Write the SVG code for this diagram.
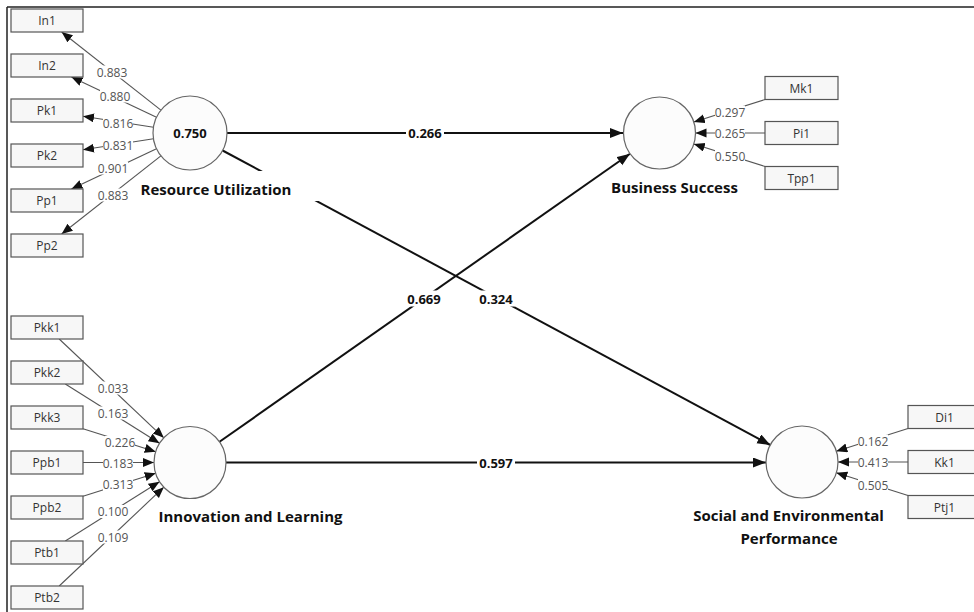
<svg xmlns="http://www.w3.org/2000/svg" width="974" height="612" viewBox="0 0 974 612">
<defs>
<marker id="ah" markerUnits="userSpaceOnUse" markerWidth="12" markerHeight="10" refX="11" refY="4.5" orient="auto"><path d="M0,0 L11,4.5 L0,9 z" fill="#111"/></marker>
<marker id="ahb" markerUnits="userSpaceOnUse" markerWidth="14" markerHeight="12" refX="13" refY="5" orient="auto"><path d="M0,0 L13,5 L0,10 z" fill="#111"/></marker>
<style>
.ind rect{fill:#f7f7f7;stroke:#555;stroke-width:1.2}
.ind text{font-family:"Open Sans","Noto Sans",sans-serif;font-size:12px;fill:#333;text-anchor:middle;dominant-baseline:central}
.lv circle{fill:#fcfcfc;stroke:#666;stroke-width:1.2}
.lvname{font-family:"Open Sans","Noto Sans",sans-serif;font-size:15px;font-weight:bold;fill:#111;text-anchor:middle;dominant-baseline:central}
.r2{font-family:"Open Sans","Noto Sans",sans-serif;font-size:13px;font-weight:bold;fill:#111;text-anchor:middle;dominant-baseline:central}
.outer{stroke:#555;stroke-width:1.1;fill:none;marker-end:url(#ah)}
.inner{stroke:#111;stroke-width:2;fill:none;marker-end:url(#ahb)}
.lbg{fill:#fff}
.ld{font-family:"Open Sans","Noto Sans",sans-serif;font-size:12px;fill:#555;text-anchor:middle;dominant-baseline:central}
.pc{font-family:"Open Sans","Noto Sans",sans-serif;font-size:13px;font-weight:bold;fill:#111;text-anchor:middle;dominant-baseline:central}
</style>
</defs>
<rect x="0" y="0" width="974" height="612" fill="#fff"/>
<path d="M7,7 H974 M7,7 V612" stroke="#222" stroke-width="1.5" fill="none"/>

<g id="connectors">
<!-- inner model -->
<line class="inner" x1="227" y1="133" x2="623" y2="133"/>
<line class="inner" x1="222.6" y1="150.5" x2="770.3" y2="445"/>
<line class="inner" x1="219.5" y1="441.8" x2="630" y2="153.7"/>
<line class="inner" x1="226" y1="462.5" x2="766" y2="462.5"/>
<!-- Resource Utilization outer (reflective) -->
<line class="outer" x1="160.9" y1="110.1" x2="61.6" y2="32"/>
<line class="outer" x1="156.5" y1="117.2" x2="71.4" y2="77"/>
<line class="outer" x1="153.5" y1="127.25" x2="83" y2="116.2"/>
<line class="outer" x1="153.5" y1="138.75" x2="83" y2="149.8"/>
<line class="outer" x1="156.5" y1="148.8" x2="71.4" y2="189"/>
<line class="outer" x1="160.9" y1="155.9" x2="61.6" y2="234"/>
<!-- Innovation and Learning outer (formative) -->
<line class="outer" x1="59.2" y1="339" x2="163.8" y2="437.8"/>
<line class="outer" x1="65.3" y1="384" x2="159.5" y2="443.3"/>
<line class="outer" x1="83" y1="428.8" x2="155.7" y2="451.7"/>
<line class="outer" x1="83" y1="462.5" x2="154" y2="462.5"/>
<line class="outer" x1="83" y1="496.2" x2="155.7" y2="473.3"/>
<line class="outer" x1="65.3" y1="541" x2="159.5" y2="481.7"/>
<line class="outer" x1="59.2" y1="586" x2="163.8" y2="487.2"/>
<!-- Business Success outer -->
<line class="outer" x1="765" y1="99.5" x2="693.8" y2="122.1"/>
<line class="outer" x1="765" y1="133" x2="695.5" y2="133"/>
<line class="outer" x1="765" y1="166.5" x2="693.8" y2="143.9"/>
<!-- Social and Environmental Performance outer -->
<line class="outer" x1="908" y1="428.5" x2="836.3" y2="451.2"/>
<line class="outer" x1="908" y1="462" x2="838" y2="462"/>
<line class="outer" x1="908" y1="495.5" x2="836.3" y2="472.8"/>
</g>

<g id="loadings">
<rect class="lbg" x="97" y="65.5" width="30" height="13"/><text class="ld" x="112" y="72">0.883</text>
<rect class="lbg" x="100" y="89.5" width="30" height="13"/><text class="ld" x="115" y="96">0.880</text>
<rect class="lbg" x="103" y="116.5" width="30" height="13"/><text class="ld" x="118" y="123">0.816</text>
<rect class="lbg" x="103" y="138.5" width="30" height="13"/><text class="ld" x="118" y="145">0.831</text>
<rect class="lbg" x="98" y="161.5" width="30" height="13"/><text class="ld" x="113" y="168">0.901</text>
<rect class="lbg" x="98" y="188.5" width="30" height="13"/><text class="ld" x="113" y="195">0.883</text>

<rect class="lbg" x="98" y="381.5" width="30" height="13"/><text class="ld" x="113" y="388">0.033</text>
<rect class="lbg" x="98" y="406.5" width="30" height="13"/><text class="ld" x="113" y="413">0.163</text>
<rect class="lbg" x="105" y="436" width="30" height="13"/><text class="ld" x="120" y="442.5">0.226</text>
<rect class="lbg" x="103" y="456.5" width="30" height="13"/><text class="ld" x="118" y="463">0.183</text>
<rect class="lbg" x="103" y="478" width="30" height="13"/><text class="ld" x="118" y="484.5">0.313</text>
<rect class="lbg" x="98" y="505" width="30" height="13"/><text class="ld" x="113" y="511.5">0.100</text>
<rect class="lbg" x="98" y="530.5" width="30" height="13"/><text class="ld" x="113" y="537">0.109</text>

<rect class="lbg" x="715" y="105.5" width="30" height="13"/><text class="ld" x="730" y="112">0.297</text>
<rect class="lbg" x="715" y="126.5" width="30" height="13"/><text class="ld" x="730" y="133">0.265</text>
<rect class="lbg" x="715" y="149.5" width="30" height="13"/><text class="ld" x="730" y="156">0.550</text>

<rect class="lbg" x="858" y="434.5" width="30" height="13"/><text class="ld" x="873" y="441">0.162</text>
<rect class="lbg" x="858" y="455.5" width="30" height="13"/><text class="ld" x="873" y="462">0.413</text>
<rect class="lbg" x="858" y="478.5" width="30" height="13"/><text class="ld" x="873" y="485">0.505</text>
</g>

<g id="path-coefficients">
<rect class="lbg" x="406" y="125" width="38" height="16"/><text class="pc" x="425" y="133">0.266</text>
<rect class="lbg" x="405" y="290.5" width="38" height="16"/><text class="pc" x="424" y="298.5">0.669</text>
<rect class="lbg" x="477" y="290.5" width="38" height="16"/><text class="pc" x="496" y="298.5">0.324</text>
<rect class="lbg" x="477" y="454.5" width="38" height="16"/><text class="pc" x="496" y="462.5">0.597</text>
</g>

<g id="lv-resource-utilization" class="lv">
<circle cx="190" cy="133" r="37"/>
<text class="r2" x="190" y="133">0.750</text>
<rect class="lbg" x="258" y="171" width="62" height="30"/>
<text class="lvname" x="216" y="189">Resource Utilization</text>
</g>
<g id="lv-business-success" class="lv">
<circle cx="659.5" cy="133" r="36"/>
<text class="lvname" x="674.5" y="187">Business Success</text>
</g>
<g id="lv-innovation-learning" class="lv">
<circle cx="190" cy="462.5" r="36"/>
<text class="lvname" x="250.5" y="516">Innovation and Learning</text>
</g>
<g id="lv-social-environmental" class="lv">
<circle cx="802" cy="462" r="36"/>
<text class="lvname" x="788.5" y="515">Social and Environmental</text>
<text class="lvname" x="789" y="538">Performance</text>
</g>

<g id="ind-In1" class="ind"><rect x="11" y="9" width="72" height="23"/><text x="47" y="20.5">In1</text></g>
<g id="ind-In2" class="ind"><rect x="11" y="54" width="72" height="23"/><text x="47" y="65.5">In2</text></g>
<g id="ind-Pk1" class="ind"><rect x="11" y="99" width="72" height="23"/><text x="47" y="110.5">Pk1</text></g>
<g id="ind-Pk2" class="ind"><rect x="11" y="144" width="72" height="23"/><text x="47" y="155.5">Pk2</text></g>
<g id="ind-Pp1" class="ind"><rect x="11" y="189" width="72" height="23"/><text x="47" y="200.5">Pp1</text></g>
<g id="ind-Pp2" class="ind"><rect x="11" y="234" width="72" height="23"/><text x="47" y="245.5">Pp2</text></g>

<g id="ind-Pkk1" class="ind"><rect x="11" y="316" width="72" height="23"/><text x="47" y="327.5">Pkk1</text></g>
<g id="ind-Pkk2" class="ind"><rect x="11" y="361" width="72" height="23"/><text x="47" y="372.5">Pkk2</text></g>
<g id="ind-Pkk3" class="ind"><rect x="11" y="406" width="72" height="23"/><text x="47" y="417.5">Pkk3</text></g>
<g id="ind-Ppb1" class="ind"><rect x="11" y="451" width="72" height="23"/><text x="47" y="462.5">Ppb1</text></g>
<g id="ind-Ppb2" class="ind"><rect x="11" y="496" width="72" height="23"/><text x="47" y="507.5">Ppb2</text></g>
<g id="ind-Ptb1" class="ind"><rect x="11" y="541" width="72" height="23"/><text x="47" y="552.5">Ptb1</text></g>
<g id="ind-Ptb2" class="ind"><rect x="11" y="586" width="72" height="23"/><text x="47" y="597.5">Ptb2</text></g>

<g id="ind-Mk1" class="ind"><rect x="765" y="76.5" width="73" height="23"/><text x="801.5" y="88">Mk1</text></g>
<g id="ind-Pi1" class="ind"><rect x="765" y="121.5" width="73" height="23"/><text x="801.5" y="133">Pi1</text></g>
<g id="ind-Tpp1" class="ind"><rect x="765" y="166.5" width="73" height="23"/><text x="801.5" y="178">Tpp1</text></g>

<g id="ind-Di1" class="ind"><rect x="908" y="405.5" width="73" height="23"/><text x="944.5" y="417">Di1</text></g>
<g id="ind-Kk1" class="ind"><rect x="908" y="450.5" width="73" height="23"/><text x="944.5" y="462">Kk1</text></g>
<g id="ind-Ptj1" class="ind"><rect x="908" y="495.5" width="73" height="23"/><text x="944.5" y="507">Ptj1</text></g>
</svg>
